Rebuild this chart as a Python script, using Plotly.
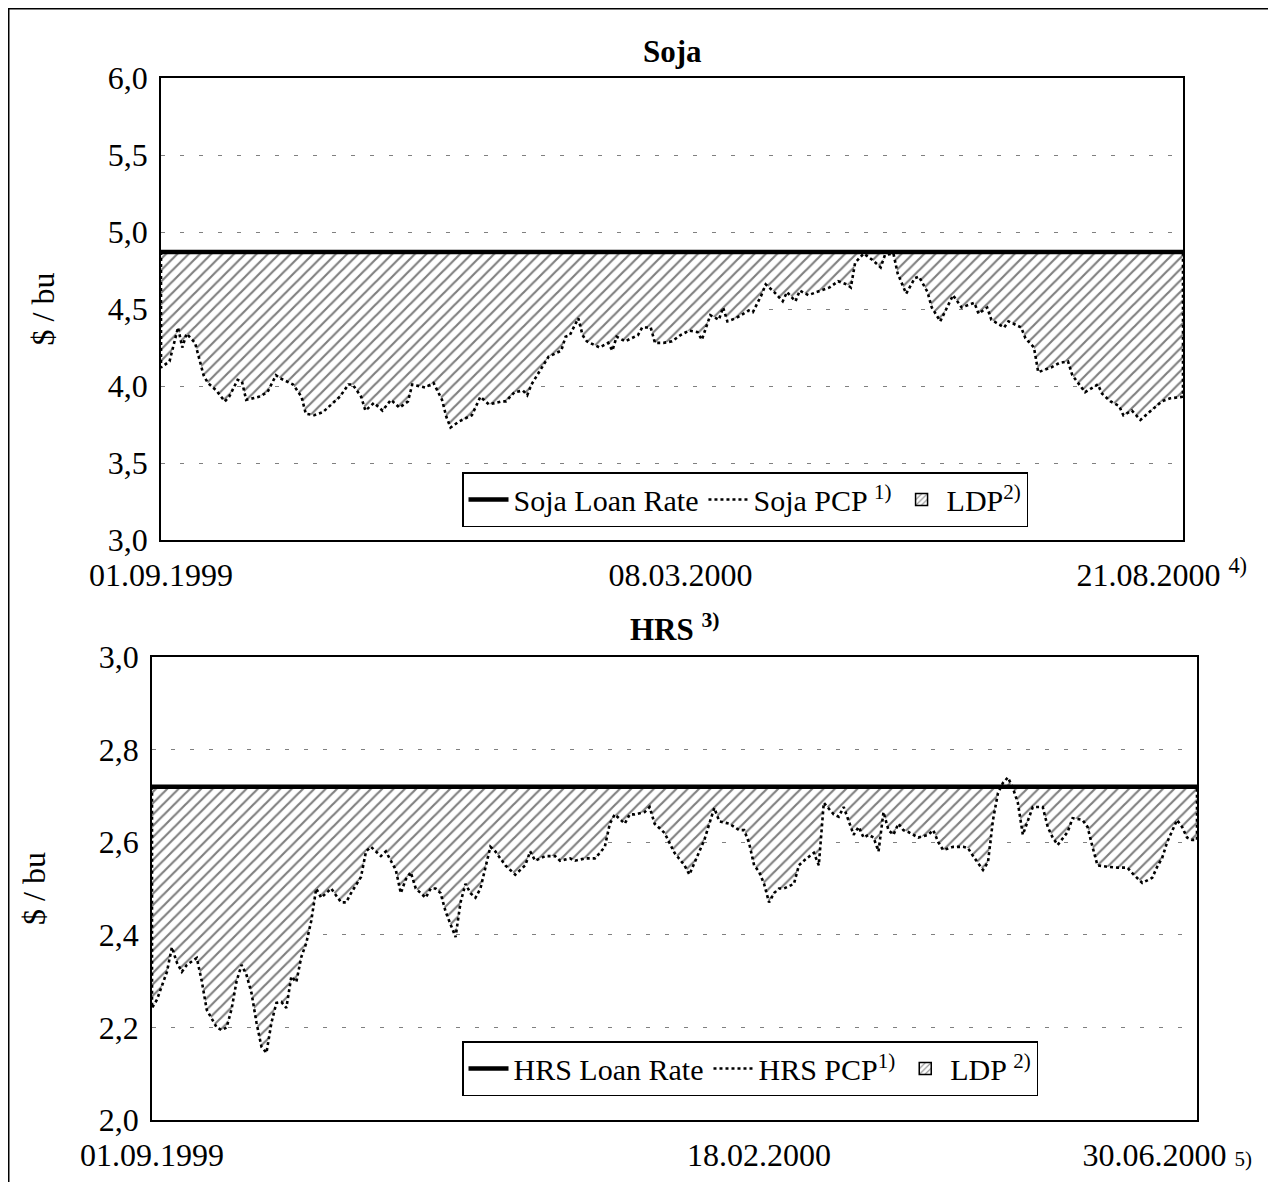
import plotly.graph_objects as go

# ---------------- data ----------------
# Soja (trading-day index from 01.09.1999 to 21.08.2000)
soja_day = [0, 2, 4, 5, 6, 8, 10, 11, 13, 15, 16, 18, 19, 20, 23, 25, 27, 28, 30, 31,
            33, 34, 36, 38, 40, 42, 44, 45, 47, 48, 50, 52, 54, 56, 58, 59, 62, 64, 66, 67,
            68, 70, 73, 75, 77, 80, 81, 83, 85, 86, 87, 89, 91, 94, 95, 96, 98, 99, 100, 103,
            105, 106, 107, 109, 112, 113, 115, 116, 118, 120, 122, 124, 126, 127, 129, 131, 132, 133, 135, 138,
            139, 141, 142, 144, 146, 147, 149, 150, 152, 155, 157, 159, 161, 162, 163, 164, 165, 167, 169, 170,
            172, 173, 175, 177, 178, 180, 181, 183, 185, 186, 188, 191, 192, 194, 195, 198, 199, 202, 203, 205,
            206, 209, 211, 213, 214, 217, 220, 221, 223, 225, 226, 228, 230, 232, 235, 237, 240]
soja_pcp = [4.12, 4.16, 4.38, 4.25, 4.34, 4.28, 4.07, 4.02, 3.97, 3.90, 3.93, 4.04, 4.03, 3.91, 3.93, 3.96, 4.07, 4.05, 4.02, 4.01,
            3.93, 3.82, 3.81, 3.83, 3.88, 3.93, 4.01, 4.01, 3.93, 3.84, 3.89, 3.84, 3.91, 3.86, 3.90, 4.01, 3.99, 4.02, 3.91, 3.80,
            3.73, 3.77, 3.81, 3.93, 3.88, 3.90, 3.90, 3.96, 3.97, 3.94, 4.01, 4.10, 4.19, 4.23, 4.32, 4.33, 4.44, 4.33, 4.29, 4.25,
            4.28, 4.23, 4.32, 4.29, 4.33, 4.38, 4.38, 4.28, 4.28, 4.29, 4.33, 4.36, 4.35, 4.30, 4.46, 4.43, 4.51, 4.42, 4.44, 4.49,
            4.48, 4.59, 4.66, 4.61, 4.55, 4.61, 4.55, 4.62, 4.59, 4.62, 4.64, 4.68, 4.66, 4.64, 4.80, 4.83, 4.86, 4.82, 4.77, 4.85,
            4.86, 4.73, 4.60, 4.70, 4.71, 4.61, 4.51, 4.42, 4.53, 4.59, 4.51, 4.54, 4.47, 4.51, 4.43, 4.38, 4.42, 4.38, 4.31, 4.25,
            4.09, 4.12, 4.15, 4.16, 4.07, 3.96, 4.01, 3.95, 3.90, 3.87, 3.81, 3.84, 3.78, 3.83, 3.90, 3.92, 3.93]
soja_loan_rate = 4.87
soja_tick_days = [0, 122, 235]
soja_tick_text = ["01.09.1999", "08.03.2000", "21.08.2000 <sup>4)</sup>"]

# HRS (trading-day index from 01.09.1999 to 30.06.2000)
hrs_day = [0, 1, 2, 3, 4, 5, 6, 7, 9, 10, 11, 13, 14, 15, 16, 17, 18, 19, 20, 21,
           22, 23, 24, 25, 26, 27, 28, 29, 30, 31, 32, 33, 34, 35, 36, 38, 39, 40, 42, 43,
           44, 45, 46, 47, 49, 50, 51, 52, 53, 55, 56, 57, 58, 59, 61, 62, 63, 64, 65, 66,
           67, 68, 69, 71, 72, 73, 75, 76, 77, 79, 81, 82, 84, 85, 87, 89, 90, 91, 92, 93,
           95, 96, 97, 99, 100, 101, 103, 104, 105, 107, 108, 109, 110, 111, 112, 113, 114, 116, 118, 119,
           120, 121, 122, 123, 124, 125, 126, 127, 129, 130, 131, 133, 134, 135, 137, 138, 139, 140, 141, 142,
           143, 144, 145, 146, 147, 148, 149, 150, 151, 152, 154, 156, 157, 158, 159, 161, 163, 164, 165, 167,
           168, 169, 170, 171, 172, 173, 174, 175, 176, 177, 179, 180, 181, 182, 184, 185, 187, 188, 189, 190,
           192, 194, 196, 197, 199, 201, 202, 203, 204, 206, 207, 208, 209, 210]
hrs_pcp = [2.242, 2.26, 2.29, 2.32, 2.373, 2.34, 2.32, 2.335, 2.35, 2.30, 2.238, 2.20, 2.194, 2.20, 2.24, 2.30, 2.335, 2.313, 2.274, 2.21,
           2.158, 2.145, 2.21, 2.253, 2.255, 2.242, 2.31, 2.298, 2.352, 2.382, 2.43, 2.50, 2.48, 2.49, 2.50, 2.47, 2.47, 2.49, 2.525, 2.58,
           2.59, 2.58, 2.57, 2.58, 2.54, 2.49, 2.52, 2.535, 2.50, 2.48, 2.50, 2.50, 2.49, 2.45, 2.395, 2.47, 2.51, 2.49, 2.48, 2.50,
           2.545, 2.59, 2.58, 2.55, 2.54, 2.53, 2.55, 2.58, 2.56, 2.57, 2.57, 2.56, 2.565, 2.56, 2.565, 2.565, 2.577, 2.59, 2.64, 2.66,
           2.64, 2.66, 2.66, 2.665, 2.676, 2.64, 2.62, 2.60, 2.577, 2.55, 2.53, 2.555, 2.58, 2.605, 2.64, 2.674, 2.645, 2.64, 2.626, 2.626,
           2.598, 2.55, 2.536, 2.51, 2.47, 2.49, 2.50, 2.50, 2.51, 2.55, 2.56, 2.577, 2.55, 2.685, 2.66, 2.655, 2.676, 2.648, 2.616, 2.633,
           2.61, 2.616, 2.61, 2.58, 2.665, 2.626, 2.616, 2.64, 2.626, 2.622, 2.61, 2.616, 2.626, 2.60, 2.583, 2.59, 2.59, 2.587, 2.57, 2.54,
           2.557, 2.648, 2.706, 2.728, 2.74, 2.717, 2.685, 2.616, 2.648, 2.676, 2.676, 2.633, 2.61, 2.594, 2.622, 2.652, 2.648, 2.633, 2.59, 2.55,
           2.547, 2.545, 2.545, 2.533, 2.512, 2.523, 2.547, 2.566, 2.60, 2.648, 2.633, 2.61, 2.605, 2.605]
hrs_loan_rate = 2.72
hrs_tick_days = [0, 122, 204]
hrs_tick_text = ["01.09.1999", "18.02.2000", "30.06.2000 <span style='font-size:21px'>5)</span>"]

# ---------------- styling ----------------
FONT = "Liberation Serif"
W, H = 1276, 1182
OFF = 8  # the page body adds an 8px margin around the figure


def px_x(p):
    return (p - OFF) / W


def px_y(p):
    return 1 - (p - OFF) / H


fig = go.Figure()

pattern = dict(shape="/", fgcolor="black", bgcolor="white", size=8, solidity=0.27)


def add_panel(days, pcp, loan, xa, ya, leg, loan_name, pcp_name, ldp_name):
    last = days[-1]
    # hatched LDP area between PCP and loan rate
    fig.add_trace(go.Scatter(
        x=days + days[::-1], y=pcp + [loan] * len(days),
        fill="toself", fillcolor="white", fillpattern=pattern,
        mode="lines", line=dict(width=0, color="black"), showlegend=False,
        hoverinfo="skip", xaxis=xa, yaxis=ya))
    # PCP dotted line (with vertical closing edges of the area)
    fig.add_trace(go.Scatter(
        x=[days[0]] + days + [last], y=[loan] + pcp + [loan],
        mode="lines", line=dict(color="black", width=2.6, dash="dot"),
        name=pcp_name, legend=leg, legendrank=2, xaxis=xa, yaxis=ya))
    # loan rate
    fig.add_trace(go.Scatter(
        x=[days[0], last], y=[loan, loan], mode="lines",
        line=dict(color="black", width=4.5),
        name=loan_name, legend=leg, legendrank=1, xaxis=xa, yaxis=ya))
    # legend swatch for the hatched LDP area
    fig.add_trace(go.Bar(
        x=[None], y=[None], name=ldp_name, legend=leg, legendrank=3,
        marker=dict(color="white",
                    pattern=dict(shape="/", fgcolor="black", bgcolor="white", size=5, solidity=0.25),
                    line=dict(color="black", width=1.5)),
        xaxis=xa, yaxis=ya))


add_panel(soja_day, soja_pcp, soja_loan_rate, "x", "y", "legend",
          "Soja Loan Rate", "Soja PCP <sup>1)</sup>", "LDP<sup>2)</sup>")
add_panel(hrs_day, hrs_pcp, hrs_loan_rate, "x2", "y2", "legend2",
          "HRS Loan Rate", "HRS PCP<sup>1)</sup>", "LDP <sup>2)</sup>")

axis_common = dict(showline=True, linecolor="black", linewidth=1.5, mirror=True,
                   ticks="", tickfont=dict(family=FONT, size=32, color="black"),
                   zeroline=False, automargin=False)
grid = dict(showgrid=True, gridcolor="#808080", gridwidth=1, griddash="4px,15px")
ytitle = dict(text="$ / bu", font=dict(family=FONT, size=32), standoff=44)
legend_common = dict(xanchor="left", yanchor="top", orientation="h",
                     bgcolor="white", bordercolor="black", borderwidth=1.5,
                     font=dict(family=FONT, size=30, color="black"), itemwidth=40,
                     tracegroupgap=0)

fig.update_layout(
    width=W, height=H,
    margin=dict(l=0, r=0, t=0, b=0, autoexpand=False),
    paper_bgcolor="white", plot_bgcolor="white",
    separators=",.",
    font=dict(family=FONT, color="black"),
    barmode="overlay",
    xaxis=dict(domain=[px_x(161), px_x(1183)], range=[0, soja_day[-1]], anchor="y",
               tickvals=soja_tick_days, ticktext=soja_tick_text, showgrid=False,
               ticklabelstandoff=6, **axis_common),
    yaxis=dict(domain=[px_y(540), px_y(78)], range=[3.0, 6.0], dtick=0.5, tickformat=".1f",
               anchor="x", ticklabelstandoff=5, title=ytitle, **grid, **axis_common),
    xaxis2=dict(domain=[px_x(152), px_x(1197)], range=[0, hrs_day[-1]], anchor="y2",
                tickvals=hrs_tick_days, ticktext=hrs_tick_text, showgrid=False,
                ticklabelstandoff=6, **axis_common),
    yaxis2=dict(domain=[px_y(1120), px_y(657)], range=[2.0, 3.0], dtick=0.2, tickformat=".1f",
                anchor="x2", ticklabelstandoff=5, title=ytitle, **grid, **axis_common),
    legend=dict(x=px_x(462), y=px_y(472), **legend_common),
    legend2=dict(x=px_x(462), y=px_y(1041), **legend_common),
    annotations=[
        dict(text="<b>Soja</b>", x=px_x(672), y=px_y(52), xref="paper", yref="paper",
             xanchor="center", yanchor="middle", showarrow=False,
             font=dict(family=FONT, size=31, color="black")),
        dict(text="<b>HRS <sup>3)</sup></b>", x=px_x(675), y=px_y(627), xref="paper", yref="paper",
             xanchor="center", yanchor="middle", showarrow=False,
             font=dict(family=FONT, size=31, color="black")),
    ],
    shapes=[
        dict(type="rect", xref="paper", yref="paper", x0=0.75 / W, x1=1.05, y0=-0.05,
             y1=1 - 0.75 / H,
             line=dict(color="black", width=1.5), fillcolor="rgba(0,0,0,0)", layer="below"),
    ],
)

fig.write_html("out.html")
